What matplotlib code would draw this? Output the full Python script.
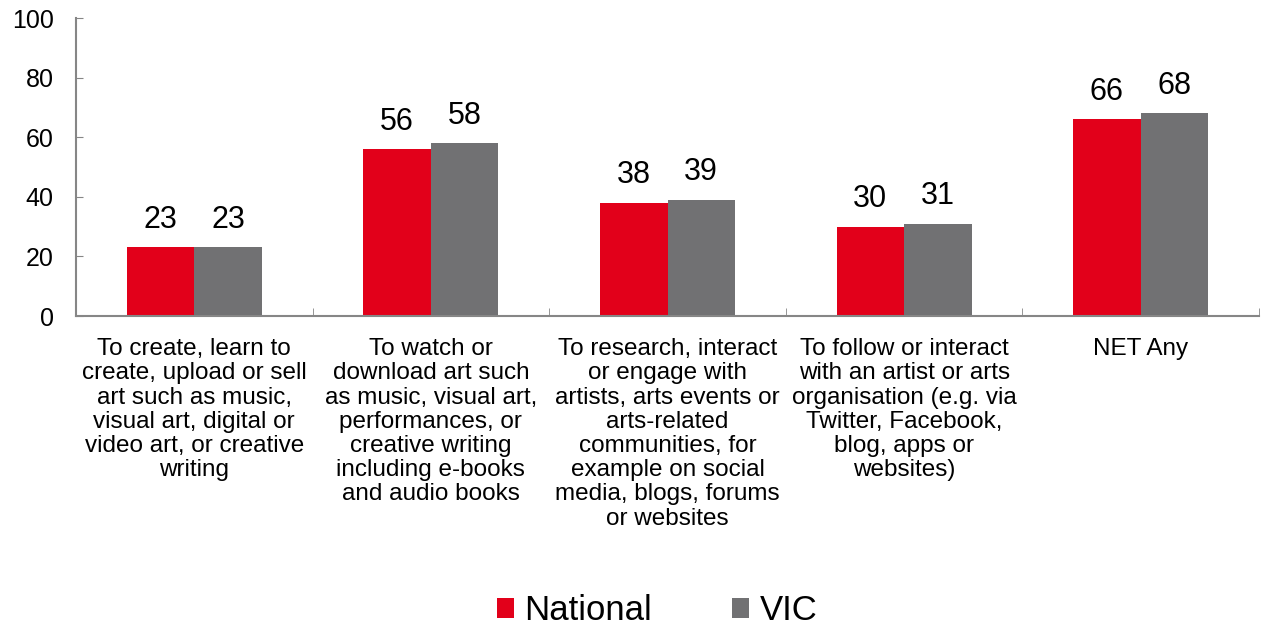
import matplotlib
matplotlib.use("Agg")
import matplotlib.pyplot as plt
import numpy as np
from matplotlib.ticker import FixedLocator

plt.rcParams['font.family'] = ['Liberation Sans', 'DejaVu Sans']

categories = [
    "To create, learn to\ncreate, upload or sell\nart such as music,\nvisual art, digital or\nvideo art, or creative\nwriting",
    "To watch or\ndownload art such\nas music, visual art,\nperformances, or\ncreative writing\nincluding e-books\nand audio books",
    "To research, interact\nor engage with\nartists, arts events or\narts-related\ncommunities, for\nexample on social\nmedia, blogs, forums\nor websites",
    "To follow or interact\nwith an artist or arts\norganisation (e.g. via\nTwitter, Facebook,\nblog, apps or\nwebsites)",
    "NET Any",
]
national = [23, 56, 38, 30, 66]
vic = [23, 58, 39, 31, 68]
series_names = ["National", "VIC"]
colors = ["#E2001A", "#717173"]
yticks = [0, 20, 40, 60, 80, 100]

W, H = 1261, 625
fig = plt.figure(figsize=(W / 100, H / 100), dpi=100)
ax = fig.add_axes([76 / W, 1 - 316 / H, (1259 - 76) / W, (316 - 18) / H])

x = np.arange(len(categories))
bw = 0.285
b1 = ax.bar(x - bw / 2, national, bw, color=colors[0], label=series_names[0])
b2 = ax.bar(x + bw / 2, vic, bw, color=colors[1], label=series_names[1])

for bars in (b1, b2):
    for r in bars:
        ax.annotate(f"{r.get_height():.0f}", (r.get_x() + r.get_width() / 2, r.get_height()),
                    xytext=(0, 9), textcoords="offset points", ha="center", va="bottom",
                    fontsize=22, color="black")

ax.set_xlim(-0.5, len(categories) - 0.5)
ax.set_ylim(0, 100)
ax.set_yticks(yticks)
ax.tick_params(axis="y", direction="in", length=5, color="#868686", labelsize=18, pad=16)

ax.set_xticks(x)
ax.set_xticklabels(categories, fontsize=17.5, linespacing=1.13)
ax.tick_params(axis="x", which="major", length=0, pad=16)
ax.xaxis.set_minor_locator(FixedLocator(np.arange(0.5, len(categories), 1.0)))
ax.tick_params(axis="x", which="minor", direction="in", length=6, color="#868686")

for s in ["top", "right"]:
    ax.spines[s].set_visible(False)
for s in ["left", "bottom"]:
    ax.spines[s].set_color("#868686")
    ax.spines[s].set_linewidth(1.5)

leg = fig.legend(handles=[b1, b2], labels=series_names, loc="center",
                 bbox_to_anchor=(657 / W, 1 - 611 / H), ncol=2, frameon=False,
                 fontsize=25, handlelength=0.5, handleheight=0.5, handletextpad=0.3,
                 columnspacing=2.3)

fig.savefig("out.png", dpi=100)
